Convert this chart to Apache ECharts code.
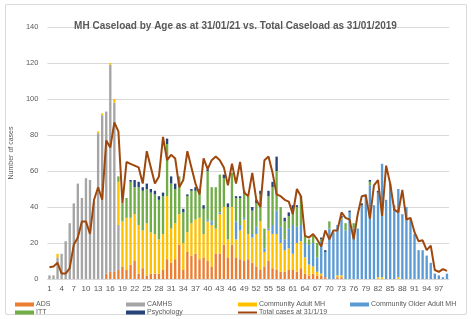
<!DOCTYPE html>
<html>
<head>
<meta charset="utf-8">
<script src="https://cdn.jsdelivr.net/npm/echarts@6/dist/echarts.min.js"></script>
<style>
  html, body { margin: 0; padding: 0; background: #fff; }
  #frame { position: absolute; left: 5px; top: 4px; width: 460px; height: 309px; border: 1px solid #d9d9d9; border-radius: 2px; }
  #chart { position: absolute; left: 0; top: 0; width: 471px; height: 319px; }
</style>
</head>
<body>
<div id="frame"></div>
<div id="chart"></div>
<script>
const ages = [];
for (let a = 1; a <= 99; a++) ages.push(String(a));

// ages 1..99
const ads = [
  0, 0, 0, 0, 0, 0, 0, 0, 0, 0,
  0, 0, 0, 0, 3, 4, 4, 5, 7, 5,
  8, 10, 3, 6, 2, 3, 3, 3, 5, 11,
  9, 11, 19, 5, 15, 13, 14, 11, 12, 10,
  7, 14, 14, 19, 12, 19, 12, 11, 10, 11,
  9, 7, 5, 7, 10, 6, 5, 4, 4, 5,
  5, 4, 6, 3, 2, 3, 2, 2, 1, 0,
  0, 1, 1, 0, 0, 0, 0, 0, 0, 0,
  0, 0, 0, 0, 0, 0, 0, 0, 0, 0,
  0, 0, 0, 0, 0, 0, 0, 0, 0
];
const camhs = [
  2, 2, 12, 14, 21, 31, 42, 53, 45, 56,
  55, 43, 81, 91, 90, 115, 94, 25, 0, 0,
  0, 0, 0, 0, 0, 0, 0, 0, 0, 0,
  0, 0, 0, 0, 0, 0, 0, 0, 0, 0,
  0, 0, 0, 0, 0, 0, 0, 0, 0, 0,
  0, 0, 0, 0, 0, 0, 0, 0, 0, 0,
  0, 0, 0, 0, 0, 0, 0, 0, 0, 0,
  0, 0, 0, 0, 0, 0, 0, 0, 0, 0,
  0, 0, 0, 0, 0, 0, 0, 0, 0, 0,
  0, 0, 0, 0, 0, 0, 0, 0, 0
];
const adultMH = [
  0, 0, 2, 0, 0, 0, 0, 0, 0, 0,
  0, 0, 1, 1, 0, 1, 2, 24, 25, 29,
  26, 26, 27, 21, 29, 23, 22, 19, 20, 35,
  19, 20, 17, 15, 11, 18, 19, 23, 13, 22,
  23, 14, 22, 21, 10, 21, 10, 16, 23, 14,
  14, 18, 27, 8, 17, 19, 20, 16, 12, 12,
  9, 16, 15, 9, 6, 4, 2, 1, 0, 0,
  0, 1, 1, 0, 0, 0, 0, 0, 0, 0,
  0, 1, 1, 0, 0, 0, 1, 0, 0, 0,
  0, 0, 0, 0, 0, 0, 0, 0, 0
];
const olderAdultMH = [
  0, 0, 0, 0, 0, 0, 0, 0, 0, 0,
  0, 0, 0, 0, 0, 0, 0, 0, 0, 0,
  0, 0, 0, 0, 0, 0, 0, 0, 0, 0,
  0, 0, 0, 0, 0, 0, 0, 0, 0, 1,
  2, 0, 1, 0, 0, 0, 10, 3, 1, 0,
  2, 4, 0, 2, 1, 5, 13, 9, 6, 11,
  16, 9, 9, 8, 11, 13, 8, 18, 14, 28,
  26, 28, 31, 27, 37, 28, 28, 41, 47, 52,
  41, 47, 63, 44, 53, 41, 49, 36, 40, 33,
  25, 16, 16, 13, 9, 3, 2, 1, 3
];
const itt = [
  0, 0, 0, 0, 0, 0, 0, 0, 0, 0,
  0, 0, 0, 0, 0, 0, 0, 3, 10, 11,
  20, 15, 21, 22, 19, 22, 22, 22, 21, 29,
  25, 19, 21, 17, 20, 18, 16, 14, 14, 27,
  19, 23, 21, 16, 18, 19, 13, 15, 14, 21,
  13, 13, 15, 11, 18, 21, 22, 11, 10, 7,
  9, 11, 15, 4, 3, 4, 8, 1, 0, 4,
  0, 0, 1, 4, 0, 3, 0, 0, 0, 2,
  0, 0, 0, 0, 0, 0, 0, 0, 0, 0,
  0, 0, 0, 0, 0, 0, 0, 0, 0
];
const psychology = [
  0, 0, 0, 0, 0, 0, 0, 0, 0, 0,
  0, 0, 0, 0, 0, 0, 0, 0, 0, 0,
  1, 4, 3, 2, 3, 2, 2, 2, 2, 3,
  4, 3, 0, 2, 1, 1, 2, 2, 2, 1,
  0, 0, 0, 2, 2, 0, 1, 1, 1, 0,
  2, 2, 2, 0, 3, 3, 8, 0, 2, 2,
  2, 1, 1, 0, 0, 0, 0, 1, 1, 0,
  0, 0, 1, 0, 1, 0, 0, 1, 0, 1,
  0, 1, 0, 0, 0, 0, 0, 0, 0, 0,
  0, 0, 0, 0, 0, 0, 0, 0, 0
];
const total2019 = [
  6.5, 7, 9, 3, 3, 6, 19, 23, 32, 32,
  25, 44, 51, 44, 77, 73, 87, 82, 42, 65,
  64, 63, 62, 53, 71, 62, 53, 57, 79, 66,
  69, 67, 51, 55, 71, 62, 53, 47, 67, 61,
  66, 68, 66, 62, 52, 64, 53, 65, 48, 46,
  59, 44, 40, 66, 68, 59, 47, 46, 44, 43,
  36, 50, 46, 24, 23, 25, 22, 18, 27, 22,
  27, 27, 37, 34, 33, 22, 36, 46, 46.5, 33.5,
  52, 55, 35, 63, 53, 38.5, 37, 49.5, 33, 34,
  26, 21, 21.5, 16, 18.5, 5, 4, 5.5, 4.5
];

const colors = {
  ads: "#ED7D31",
  camhs: "#A5A5A5",
  adult: "#FFC000",
  older: "#5B9BD5",
  itt: "#70AD47",
  psych: "#264478",
  total: "#9E480E",
  text: "#595959",
  grid: "#D9D9D9"
};

const font = "'Liberation Sans', Arial, sans-serif";

const legendText = { color: colors.text, fontSize: 7, fontFamily: font, padding: [0, 0, 0, -3] };
const legendAt = (name, left, top, icon, h) => ({
  data: [{ name, icon }],
  left, top,
  itemWidth: 19, itemHeight: h,
  textStyle: legendText,
  selectedMode: false
});

const bar = (name, data, color) => ({
  name, type: "bar", stack: "cases", data,
  barWidth: "58%",
  itemStyle: { color },
  emphasis: { disabled: true }
});

const chart = echarts.init(document.getElementById("chart"), null, { renderer: "canvas" });
chart.setOption({
  animation: false,
  title: {
    text: "MH Caseload by Age as at 31/01/21 vs. Total Caseload as 31/01/2019",
    left: "center", top: 16,
    textStyle: { fontFamily: font, fontWeight: "bold", fontSize: 10, color: colors.text }
  },
  legend: [
    legendAt("ADS", 10, 296, "rect", 4),
    legendAt("CAMHS", 121, 296, "rect", 4),
    legendAt("Community Adult MH", 233, 296, "rect", 4),
    legendAt("Community Older Adult MH", 345, 296, "rect", 4),
    legendAt("ITT", 10, 304, "rect", 4),
    legendAt("Psychology", 121, 304, "rect", 4),
    legendAt("Total cases at 31/1/19", 233, 304, "rect", 2)
  ],
  grid: { left: 43, right: 22, top: 27, bottom: 40 },
  xAxis: {
    type: "category",
    data: ages,
    axisTick: { show: false },
    axisLine: { lineStyle: { color: colors.grid } },
    axisLabel: { interval: 2, color: colors.text, fontSize: 8, fontFamily: font, margin: 6 }
  },
  yAxis: {
    type: "value",
    min: 0, max: 140, interval: 20,
    name: "Number of cases",
    nameLocation: "middle",
    nameGap: 28,
    nameTextStyle: { color: colors.text, fontSize: 7, fontFamily: font },
    axisLabel: { color: colors.text, fontSize: 7.5, fontFamily: font, margin: 9 },
    splitLine: { lineStyle: { color: colors.grid, width: 1 } }
  },
  series: [
    bar("ADS", ads, colors.ads),
    bar("CAMHS", camhs, colors.camhs),
    bar("Community Adult MH", adultMH, colors.adult),
    bar("Community Older Adult MH", olderAdultMH, colors.older),
    bar("ITT", itt, colors.itt),
    bar("Psychology", psychology, colors.psych),
    {
      name: "Total cases at 31/1/19",
      type: "line",
      data: total2019,
      showSymbol: false,
      symbol: "none",
      lineStyle: { color: colors.total, width: 2 },
      itemStyle: { color: colors.total },
      emphasis: { disabled: true },
      z: 5
    }
  ]
});
</script>
</body>
</html>
